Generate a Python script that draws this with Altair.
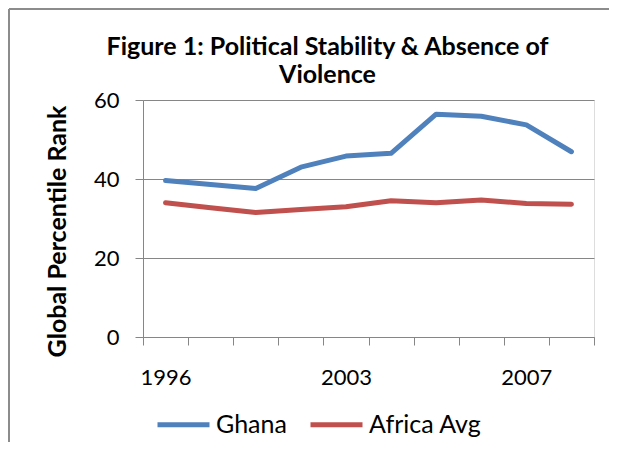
import altair as alt
import pandas as pd

years = ["1996", "1998", "2000", "2002", "2003", "2004", "2005", "2006", "2007", "2008"]
ghana = [39.6, 38.6, 37.6, 43.0, 45.8, 46.5, 56.4, 55.9, 53.7, 46.9]
africa = [34.0, 32.7, 31.5, 32.3, 33.0, 34.5, 34.0, 34.7, 33.8, 33.6]
series = ["Ghana", "Africa Avg"]
colors = ["#4F81BD", "#C0504D"]
shown_labels = ["1996", "2003", "2007"]
y_ticks = [0, 20, 40, 60]

rows = []
for i, y in enumerate(years):
    rows.append({"year": y, "series": "Ghana", "value": ghana[i], "order": i})
    rows.append({"year": y, "series": "Africa Avg", "value": africa[i], "order": i})
df = pd.DataFrame(rows)

FONT = "Lato"
GRID = "#868686"

label_expr = "indexof(" + str(shown_labels).replace("'", '"') + ", datum.label) >= 0 ? datum.label : ''"

lines = alt.Chart(df).mark_line(strokeWidth=5, strokeCap="round", strokeJoin="round").encode(
    x=alt.X(
        "year:O",
        sort=years,
        bandPosition=0.5,
        scale=alt.Scale(type="band", paddingInner=0, paddingOuter=0),
        axis=alt.Axis(
            title=None,
            labelAngle=0,
            labelExpr=label_expr,
            tickBand="extent",
            tickSize=8,
            tickColor=GRID,
            domainColor=GRID,
            labelFont=FONT,
            labelFontSize=22,
            labelColor="#000000",
            labelPadding=22,
            grid=False,
        ),
    ),
    y=alt.Y(
        "value:Q",
        scale=alt.Scale(domain=[0, 60]),
        axis=alt.Axis(
            title="Global Percentile Rank",
            values=y_ticks,
            tickSize=8,
            tickColor=GRID,
            domainColor=GRID,
            gridColor=GRID,
            labelFont=FONT,
            labelFontSize=22,
            labelColor="#000000",
            labelPadding=16,
            titleFont=FONT,
            titleFontSize=25,
            titleFontWeight="bold",
            titleColor="#000000",
            titleX=-86,
            titleY=131,
            titleAngle=-90,
            titleAlign="center",
            titleBaseline="middle",
        ),
    ),
    color=alt.Color(
        "series:N",
        sort=series,
        scale=alt.Scale(domain=series, range=colors),
        legend=alt.Legend(
            orient="none",
            legendX=12,
            legendY=296,
            direction="horizontal",
            title=None,
            symbolType="stroke",
            symbolSize=2704,
            symbolStrokeWidth=5,
            labelFont=FONT,
            labelFontSize=25,
            labelColor="#000000",
            labelOffset=4,
            columnPadding=13,
        ),
    ),
    order="order:Q",
)

frame_df = pd.DataFrame({"a": [0]})
left_border = alt.Chart(frame_df).mark_rule(color="#8c8c8c", strokeWidth=2).encode(
    x=alt.value(-134), y=alt.value(-91), y2=alt.value(400)
)
top_border = alt.Chart(frame_df).mark_rule(color="#8c8c8c", strokeWidth=2).encode(
    x=alt.value(-134), x2=alt.value(500), y=alt.value(-91)
)

chart = alt.layer(left_border, top_border, lines).properties(
    width=451,
    height=237,
    title=alt.TitleParams(
        ["Figure 1: Political Stability & Absence of", "Violence"],
        font=FONT,
        fontSize=25,
        fontWeight="bold",
        lineHeight=28,
        anchor="middle",
        dx=-41,
        dy=93,
        offset=13,
        color="#000000",
    ),
    autosize=alt.AutoSizeParams(type="none"),
    padding={"left": 135, "top": 92, "right": 15, "bottom": 105},
).configure_view(stroke=None).configure(background="white")

chart.save("out.html", embed_options={"renderer": "svg", "actions": False})
